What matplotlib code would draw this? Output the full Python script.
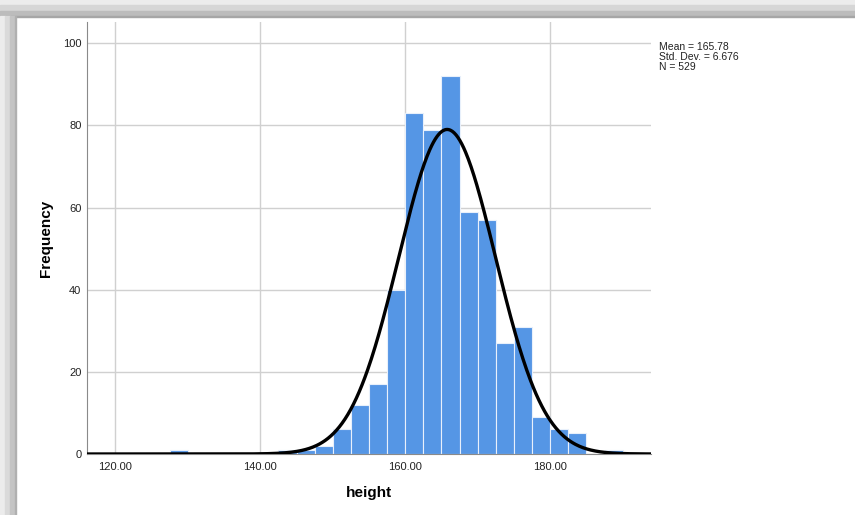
import numpy as np
import matplotlib
matplotlib.use("Agg")
import matplotlib.pyplot as plt
from matplotlib.patches import Rectangle

plt.rcParams['font.family'] = ['Liberation Sans', 'DejaVu Sans']

# histogram of height (SPSS style)
bin_lefts = [127.5, 142.5, 145.0, 147.5, 150.0, 152.5, 155.0, 157.5, 160.0, 162.5,
             165.0, 167.5, 170.0, 172.5, 175.0, 177.5, 180.0, 182.5, 187.5]
counts = [1, 1, 1, 2, 6, 12, 17, 40, 83, 79, 92, 59, 57, 27, 31, 9, 6, 5, 1]
bin_width = 2.5
mean = 165.78
std_dev = 6.676
n = 529
x_ticks = [120, 140, 160, 180]
y_ticks = [0, 20, 40, 60, 80, 100]

fig = plt.figure(figsize=(8.55, 5.15), dpi=100)
fig.patch.set_facecolor('white')

# grey window shadow at top and left
W, H = 855, 515
top_bands = [(0, 5, '#ececec'), (5, 11, '#d6d6d6'), (11, 16, '#bcbcbc'), (16, 17, '#a6a6a6')]
for y0, y1, c in top_bands:
    fig.patches.append(Rectangle((0, 1 - y1 / H), 1, (y1 - y0) / H,
                                 transform=fig.transFigure, color=c, zorder=0))
left_bands = [(0, 5, '#ececec'), (5, 10, '#dadada'), (10, 15, '#c4c4c4'), (15, 16, '#b0b0b0')]
for x0, x1, c in left_bands:
    fig.patches.append(Rectangle((x0 / W, 0), (x1 - x0) / W, 1 - 16 / H,
                                 transform=fig.transFigure, color=c, zorder=0))

ax = fig.add_axes([87 / W, 1 - 454 / H, (651 - 87) / W, (454 - 22) / H])
ax.set_facecolor('none')

ax.bar(bin_lefts, counts, width=bin_width, align='edge', color='#5596e5',
       edgecolor='#e8f0fb', linewidth=0.8, zorder=2)

xmin, xmax = 116.1, 193.9
xs = np.linspace(xmin, xmax, 600)
ys = n * bin_width * np.exp(-0.5 * ((xs - mean) / std_dev) ** 2) / (std_dev * np.sqrt(2 * np.pi))
ax.plot(xs, ys, color='black', linewidth=2.4, zorder=3, solid_capstyle='butt')

ax.set_xlim(xmin, xmax)
ax.set_ylim(0, 105.2)
ax.set_xticks(x_ticks)
ax.set_xticklabels(['%.2f' % v for v in x_ticks])
ax.set_yticks(y_ticks)
ax.grid(True, color='#d0d0d0', linewidth=1.0, zorder=0)
ax.set_axisbelow(True)
ax.tick_params(axis='both', length=0, labelsize=8, colors='#222222')
ax.tick_params(axis='y', pad=4)
ax.tick_params(axis='x', pad=6)

for s in ['top', 'right']:
    ax.spines[s].set_visible(False)
ax.spines['left'].set_color('#8a8a8a')
ax.spines['bottom'].set_color('#8a8a8a')

ax.set_xlabel('height', fontsize=11, fontweight='bold', labelpad=10)
ax.set_ylabel('Frequency', fontsize=11, fontweight='bold', labelpad=7)

stats = 'Mean = %.2f\nStd. Dev. = %.3f\nN = %d' % (mean, std_dev, n)
fig.text(659 / W, 1 - 42 / H, stats, fontsize=7.5, va='top', ha='left',
         color='#222222', linespacing=1.0)

fig.savefig('out.png', dpi=100)
